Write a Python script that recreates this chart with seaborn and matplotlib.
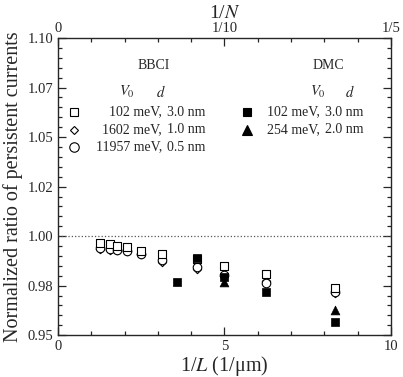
import numpy as np
import pandas as pd
import seaborn as sns
import matplotlib.pyplot as plt
from matplotlib.ticker import MultipleLocator, FixedLocator

# 1/L positions (1/um) of the rings
x_bbci = [1.25, 1.5625, 1.786, 2.083, 2.5, 3.125, 4.167, 5.0, 6.25, 8.333]
# BBCI results
bbci_102 = [0.9965, 0.9958, 0.9950, 0.9945, 0.9925, 0.9910, 0.9885, 0.9848, 0.9808, 0.9736]
bbci_1602 = [0.9935, 0.9932, 0.9929, 0.9924, 0.9910, 0.9868, 0.9835, 0.9800, 0.9775, 0.9712]
bbci_11957 = [0.9940, 0.9935, 0.9932, 0.9927, 0.9912, 0.9880, 0.9845, 0.9805, 0.9762, 0.9718]

# DMC results
x_dmc_102 = [3.571, 4.167, 5.0, 6.25, 8.333]
dmc_102 = [0.9768, 0.9890, 0.9795, 0.9716, 0.9567]
x_dmc_254 = [5.0, 8.333]
dmc_254 = [0.9770, 0.9626]

sns.set_style('ticks')
plt.rcParams['font.family'] = ['Liberation Serif', 'DejaVu Serif']
plt.rcParams['mathtext.fontset'] = 'stix'

fig, ax = plt.subplots(figsize=(4.03, 3.77), dpi=100)
fig.subplots_adjust(left=0.144, right=0.970, bottom=0.111, top=0.899)

ax.axhline(1.0, ls=':', color='#555555', lw=0.9, zorder=1)

open_kw = dict(facecolor='white', edgecolor='black', linewidth=0.8, ax=ax, legend=False, zorder=3)
sns.scatterplot(x=x_bbci, y=bbci_1602, marker='D', s=18, **open_kw)
sns.scatterplot(x=x_bbci, y=bbci_11957, marker='o', s=38, **open_kw)
sns.scatterplot(x=x_bbci, y=bbci_102, marker='s', s=28, **open_kw)

fill_kw = dict(color='black', edgecolor='black', linewidth=0.5, ax=ax, legend=False, zorder=4)
sns.scatterplot(x=x_dmc_102, y=dmc_102, marker='s', s=28, **fill_kw)
sns.scatterplot(x=x_dmc_254, y=dmc_254, marker='^', s=40, **fill_kw)

ax.set_xlim(0, 10)
ax.set_ylim(0.95, 1.10)
ax.xaxis.set_major_locator(FixedLocator([0, 5, 10]))
ax.xaxis.set_minor_locator(MultipleLocator(1))
ax.yaxis.set_minor_locator(MultipleLocator(0.005))
ax.set_yticks([0.95, 0.975, 1.0, 1.025, 1.05, 1.075, 1.10])
ax.set_yticklabels(['0.95', '0.98', '1.00', '1.02', '1.05', '1.07', '1.10'])
ax.tick_params(which='both', direction='in', top=False, right=True, labelsize=10.5, width=0.9)
ax.tick_params(which='major', length=6)
ax.tick_params(which='minor', length=3)
ax.set_xlabel('1/$L$ (1/μm)', fontsize=14.5, labelpad=1)
ax.set_ylabel('Normalized ratio of persistent currents', fontsize=14.5, labelpad=3)
for sp in ax.spines.values():
    sp.set_linewidth(0.9)
    sp.set_color('black')

top = ax.twiny()
top.set_xlim(0, 10)
top.xaxis.set_major_locator(FixedLocator([0, 5, 10]))
top.xaxis.set_minor_locator(MultipleLocator(1))
top.set_xticklabels(['0', '1/10', '1/5'])
top.tick_params(which='both', direction='in', labelsize=10.5, width=0.9, pad=2)
top.tick_params(which='major', length=6)
top.tick_params(which='minor', length=3)
top.set_xlabel('1/$N$', fontsize=14, labelpad=3)

# legend block, drawn as text and markers in axes coordinates
def ax_xy(px, py):
    return ((px - 58) / 333.0, (335 - py) / 297.0)

def put(px, py, s, ha='center', size=10):
    ax.text(*ax_xy(px, py), s, transform=ax.transAxes, ha=ha, va='center', fontsize=size)

def mark(px, py, m, filled, size):
    ax.plot(*ax_xy(px, py), marker=m, ms=size, transform=ax.transAxes,
            mfc='black' if filled else 'white', mec='black', mew=0.8, ls='none', clip_on=False)

put(154, 65, 'BBCI')
put(127, 92, '$V_0$', size=10.5)
put(161, 92, '$d$', size=10.5)
bbci_rows = [('s', 5.5, '102 meV,', '3.0 nm'), ('D', 4.5, '1602 meV,', '1.0 nm'), ('o', 6.8, '11957 meV,', '0.5 nm')]
for i, (m, ms, a, b) in enumerate(bbci_rows):
    py = 112 + i * 17.5
    mark(74, py, m, False, ms)
    put(162, py, a, ha='right')
    put(167, py, b, ha='left')

put(328, 65, 'DMC')
put(318, 92, '$V_0$', size=10.5)
put(350, 92, '$d$', size=10.5)
dmc_rows = [('s', 5.5, '102 meV,', '3.0 nm'), ('^', 6.8, '254 meV,', '2.0 nm')]
for i, (m, ms, a, b) in enumerate(dmc_rows):
    py = 112 + i * 17.5
    mark(247, py, m, True, ms)
    put(320, py, a, ha='right')
    put(325, py, b, ha='left')

fig.savefig('out.png', dpi=100)
